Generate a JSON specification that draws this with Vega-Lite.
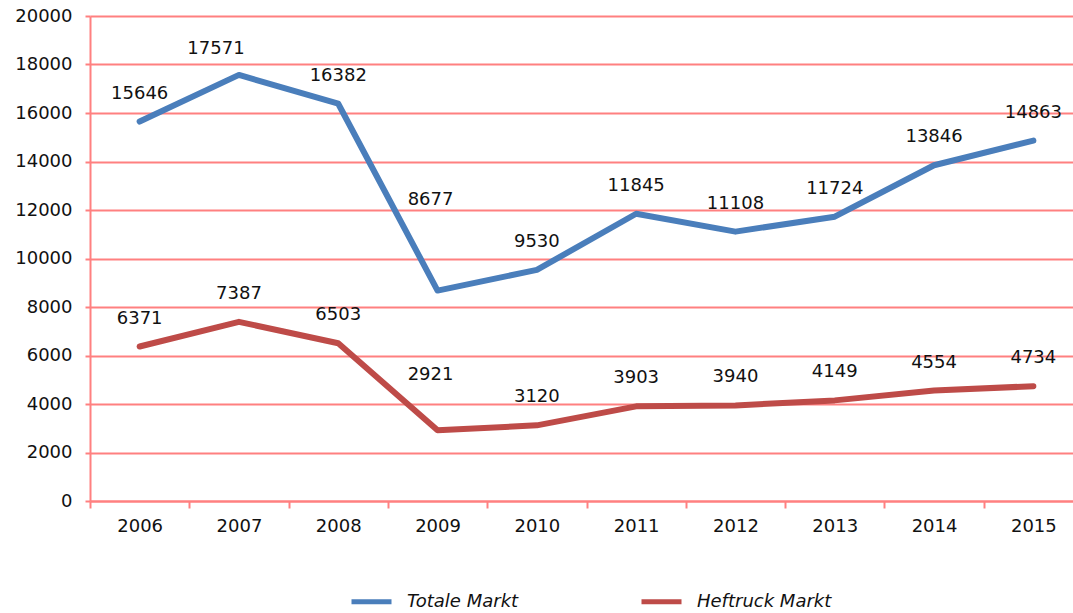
{
  "$schema": "https://vega.github.io/schema/vega-lite/v6.json",
  "width": 983,
  "height": 485,
  "autosize": {"type": "none"},
  "padding": {"left": 90, "top": 16, "right": 0, "bottom": 112},
  "background": "white",
  "config": {
    "view": {"stroke": null},
    "font": "DejaVu Sans",
    "axis": {"labelFont": "DejaVu Sans", "labelFontSize": 18, "labelColor": "#111111", "title": null}
  },
  "data": {
    "values": [
      {"year": "2006", "series": "Totale Markt", "value": 15646},
      {"year": "2007", "series": "Totale Markt", "value": 17571},
      {"year": "2008", "series": "Totale Markt", "value": 16382},
      {"year": "2009", "series": "Totale Markt", "value": 8677},
      {"year": "2010", "series": "Totale Markt", "value": 9530},
      {"year": "2011", "series": "Totale Markt", "value": 11845},
      {"year": "2012", "series": "Totale Markt", "value": 11108},
      {"year": "2013", "series": "Totale Markt", "value": 11724},
      {"year": "2014", "series": "Totale Markt", "value": 13846},
      {"year": "2015", "series": "Totale Markt", "value": 14863},
      {"year": "2006", "series": "Heftruck Markt", "value": 6371},
      {"year": "2007", "series": "Heftruck Markt", "value": 7387},
      {"year": "2008", "series": "Heftruck Markt", "value": 6503},
      {"year": "2009", "series": "Heftruck Markt", "value": 2921},
      {"year": "2010", "series": "Heftruck Markt", "value": 3120},
      {"year": "2011", "series": "Heftruck Markt", "value": 3903},
      {"year": "2012", "series": "Heftruck Markt", "value": 3940},
      {"year": "2013", "series": "Heftruck Markt", "value": 4149},
      {"year": "2014", "series": "Heftruck Markt", "value": 4554},
      {"year": "2015", "series": "Heftruck Markt", "value": 4734}
    ]
  },
  "encoding": {
    "x": {
      "field": "year",
      "type": "nominal",
      "sort": null,
      "scale": {"range": [0, 993], "paddingInner": 0, "paddingOuter": 0},
      "axis": {
        "labelAngle": 0,
        "domainColor": "#FF8080",
        "domainWidth": 2,
        "tickColor": "#FF8080",
        "tickWidth": 2,
        "tickSize": 7,
        "tickBand": "extent",
        "labelPadding": 9,
        "grid": false
      }
    },
    "y": {
      "field": "value",
      "type": "quantitative",
      "scale": {"domain": [0, 20000], "nice": false},
      "axis": {
        "values": [0, 2000, 4000, 6000, 8000, 10000, 12000, 14000, 16000, 18000, 20000],
        "format": "d",
        "domain": true,
        "domainColor": "#FF8080",
        "domainWidth": 2,
        "tickColor": "#FF8080",
        "tickWidth": 2,
        "tickSize": 5,
        "labelPadding": 13,
        "grid": true,
        "gridColor": "#FF8080",
        "gridWidth": 2
      }
    }
  },
  "layer": [
    {
      "mark": {"type": "line", "strokeWidth": 6, "strokeCap": "round", "strokeJoin": "round"},
      "encoding": {
        "color": {
          "field": "series",
          "type": "nominal",
          "scale": {"domain": ["Totale Markt", "Heftruck Markt"], "range": ["#4A7EBB", "#BE4B48"]},
          "legend": {
            "title": null,
            "orient": "none",
            "direction": "horizontal",
            "legendX": 259,
            "legendY": 563,
            "symbolType": "stroke",
            "symbolSize": 1600,
            "symbolStrokeWidth": 5,
            "labelFont": "DejaVu Sans",
            "labelFontSize": 18,
            "labelFontStyle": "italic",
            "labelColor": "#111111",
            "labelOffset": 13,
            "columnPadding": 112,
            "labelLimit": 300
          }
        }
      }
    },
    {
      "transform": [
        {"filter": "!((datum.year == '2007' && datum.series == 'Totale Markt') || datum.year == '2009')"}
      ],
      "mark": {"type": "text", "fontSize": 18, "font": "DejaVu Sans", "color": "#111111", "baseline": "middle", "dy": -28},
      "encoding": {"text": {"field": "value", "type": "quantitative", "format": "d"}}
    },
    {
      "transform": [
        {"filter": "datum.year == '2007' && datum.series == 'Totale Markt'"}
      ],
      "mark": {"type": "text", "fontSize": 18, "font": "DejaVu Sans", "color": "#111111", "baseline": "middle", "dx": -23, "dy": -26},
      "encoding": {"text": {"field": "value", "type": "quantitative", "format": "d"}}
    },
    {
      "transform": [
        {"filter": "datum.year == '2009' && datum.series == 'Totale Markt'"}
      ],
      "mark": {"type": "text", "fontSize": 18, "font": "DejaVu Sans", "color": "#111111", "baseline": "middle", "dx": -7, "dy": -91},
      "encoding": {"text": {"field": "value", "type": "quantitative", "format": "d"}}
    },
    {
      "transform": [
        {"filter": "datum.year == '2009' && datum.series == 'Heftruck Markt'"}
      ],
      "mark": {"type": "text", "fontSize": 18, "font": "DejaVu Sans", "color": "#111111", "baseline": "middle", "dx": -7, "dy": -55},
      "encoding": {"text": {"field": "value", "type": "quantitative", "format": "d"}}
    }
  ]
}
